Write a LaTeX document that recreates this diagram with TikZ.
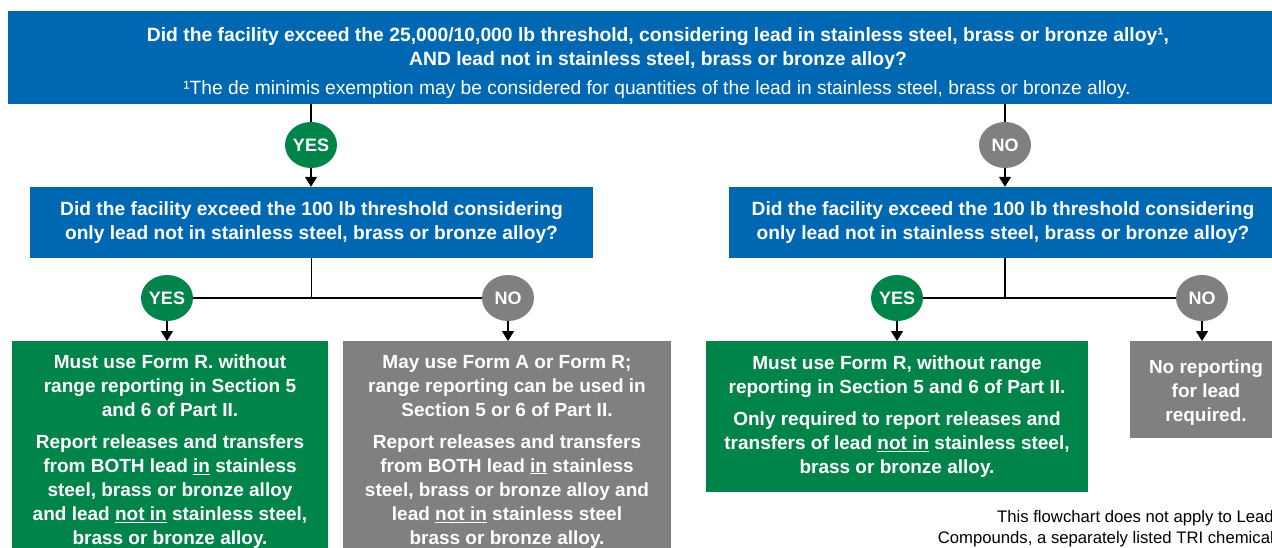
\documentclass[tikz,border=0pt]{standalone}
\usepackage{fontspec}
\setmainfont{Liberation Sans}
\usetikzlibrary{arrows.meta,shapes.geometric}

\definecolor{epablue}{HTML}{0068B3}
\definecolor{epagreen}{HTML}{00844A}
\definecolor{epagray}{HTML}{808080}

\tikzset{
    qbox/.style={fill=epablue, text=white, align=center, inner sep=0pt, font=\fontsize{19.2}{23.5}\selectfont\bfseries},
    greenbox/.style={fill=epagreen, text=white, align=center, inner sep=0pt, font=\fontsize{19}{24}\selectfont\bfseries},
    graybox/.style={greenbox, fill=epagray},
    boxtext/.style={anchor=north, text=white, align=center, inner sep=0pt, font=\fontsize{19}{24}\selectfont\bfseries},
    yesdot/.style={ellipse, fill=epagreen, text=white, minimum width=52pt, minimum height=46pt, inner sep=0pt, font=\fontsize{18}{18}\selectfont\bfseries},
    nodot/.style={yesdot, fill=epagray},
    link/.style={line width=1.3pt},
    arr/.style={link, -{Triangle[width=12pt,length=10pt]}}
}

\begin{document}
\begin{tikzpicture}[x=1pt, y=-1pt]
                \useasboundingbox (0,0) rectangle (1272,548);
                \clip (0,0) rectangle (1272,548);

                \node[qbox, minimum width=1298, minimum height=93] (qtop) at (657,57.5) {}; %top question
                \node[boxtext, anchor=center, font=\fontsize{19.3}{24}\selectfont\bfseries] (qtoptext) at (658,49) {Did the facility exceed the 25,000/10,000 lb threshold, considering lead in stainless steel, brass or bronze alloy¹,\\AND lead not in stainless steel, brass or bronze alloy?};
                \node[boxtext, anchor=center, font=\fontsize{19.2}{20}\selectfont] (fnote) at (657,90) {¹The de minimis exemption may be considered for quantities of the lead in stainless steel, brass or bronze alloy.};

                \node[yesdot] (yes1) at (311,145) {YES};
                \node[nodot] (no1) at (1005,145) {NO};

                \node[qbox, minimum width=563, minimum height=71] (q2) at (311.5,222.5) {Did the facility exceed the 100 lb threshold considering\\only lead not in stainless steel, brass or bronze alloy?}; %left question
                \node[qbox, minimum width=548, minimum height=71] (q3) at (1003,222.5) {Did the facility exceed the 100 lb threshold considering\\only lead not in stainless steel, brass or bronze alloy?}; %right question

                \node[yesdot] (yesA) at (167,298) {YES};
                \node[nodot] (noA) at (508,298) {NO};
                \node[yesdot] (yesB) at (897,298) {YES};
                \node[nodot] (noB) at (1202,298) {NO};

                \node[greenbox, anchor=north, minimum width=316, minimum height=220] (mustR) at (170,341) {}; %form R, both
                \node[boxtext] (mustRtext) at ([yshift=-14]mustR.north) {Must use Form R. without\\range reporting in Section 5\\and 6 of Part II.\\[8pt]Report releases and transfers\\from BOTH lead \underline{in} stainless\\steel, brass or bronze alloy\\and lead \underline{not in} stainless steel,\\brass or bronze alloy.};
                \node[graybox, anchor=north, minimum width=328, minimum height=220] (mayAR) at (507,341) {}; %form A or R
                \node[boxtext] (mayARtext) at ([yshift=-14]mayAR.north) {May use Form A or Form R;\\range reporting can be used in\\Section 5 or 6 of Part II.\\[8pt]Report releases and transfers\\from BOTH lead \underline{in} stainless\\steel, brass or bronze alloy and\\lead \underline{not in} stainless steel\\brass or bronze alloy.};
                \node[greenbox, anchor=north, minimum width=382, minimum height=151] (mustR2) at (897,341) {Must use Form R, without range\\reporting in Section 5 and 6 of Part II.\\[8pt]Only required to report releases and\\transfers of lead \underline{not in} stainless steel,\\brass or bronze alloy.}; %form R, not in only
                \node[graybox, anchor=north, minimum width=152, minimum height=97] (noRep) at (1206,341) {}; %nothing
                \node[boxtext] (noReptext) at ([yshift=-19]noRep.north) {No reporting\\for lead\\required.};

                \node[anchor=north east, align=right, inner sep=0pt, font=\fontsize{16.7}{21.5}\selectfont] (caveat) at (1274,510) {This flowchart does not apply to Lead\\Compounds, a separately listed TRI chemical};

                \draw[link] (qtop.south -| yes1) -- (yes1);
                \draw[link] (qtop.south -| no1) -- (no1);
                \draw[arr] (yes1) -- (yes1 |- q2.north);
                \draw[arr] (no1) -- (no1 |- q3.north);

                \draw[link] (q2.south) -- (q2.south |- yesA);
                \draw[link] (yesA) -- (noA);
                \draw[link] (q3.south -| no1) -- (yesB -| no1);
                \draw[link] (yesB) -- (noB);

                \draw[arr] (yesA) -- (yesA |- mustR.north);
                \draw[arr] (noA) -- (noA |- mayAR.north);
                \draw[arr] (yesB) -- (mustR2);
                \draw[arr] (noB) -- (noB |- noRep.north);
            \end{tikzpicture}
\end{document}
